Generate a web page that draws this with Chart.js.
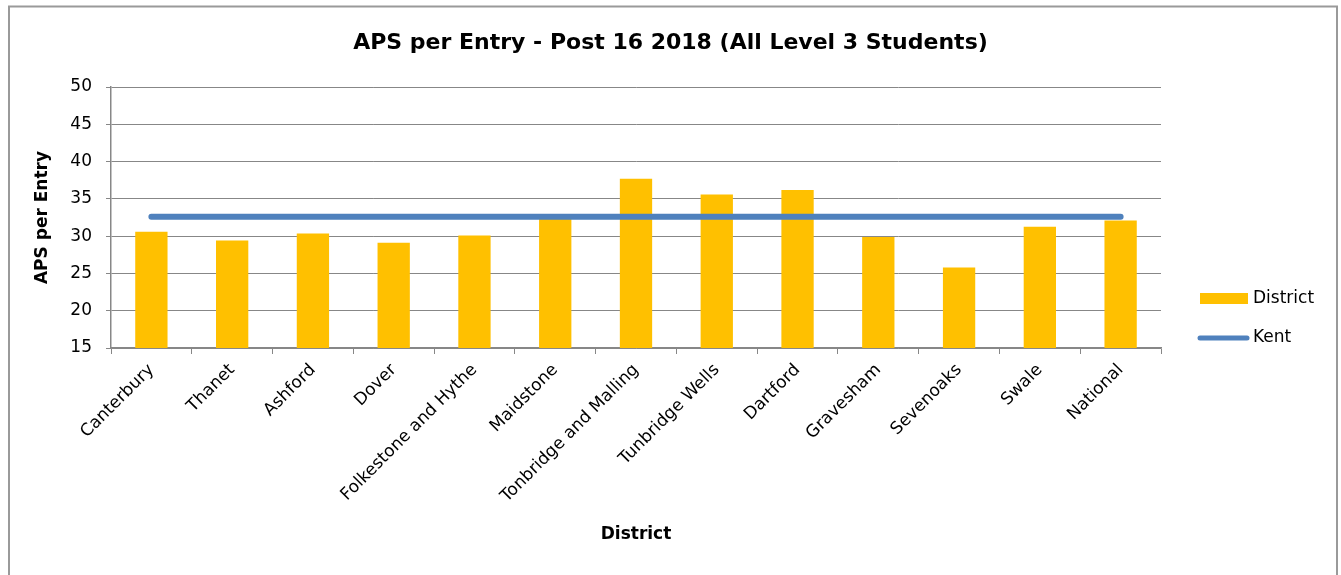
<!DOCTYPE html>
<html>
<head>
<meta charset="utf-8">
<script src="https://cdn.jsdelivr.net/npm/chart.js@4.4.1/dist/chart.umd.min.js"></script>
<style>
  html, body { margin: 0; padding: 0; background: #fff; }
  #wrap { width: 1341px; height: 575px; position: relative; }
</style>
</head>
<body>
<div id="wrap"><canvas id="aps" width="1341" height="575"></canvas></div>
<script>
// data
const districts = ['Canterbury', 'Thanet', 'Ashford', 'Dover', 'Folkestone and Hythe', 'Maidstone',
  'Tonbridge and Malling', 'Tunbridge Wells', 'Dartford', 'Gravesham', 'Sevenoaks', 'Swale', 'National'];
const districtAps = [30.6, 29.4, 30.35, 29.1, 30.1, 32.4, 37.7, 35.6, 36.2, 29.9, 25.8, 31.25, 32.1];
const kentAps = [32.6, 32.6, 32.6, 32.6, 32.6, 32.6, 32.6, 32.6, 32.6, 32.6, 32.6, 32.6, 32.6];
const yTicks = [15, 20, 25, 30, 35, 40, 45, 50];

const FONT = 'DejaVu Sans';
const GRID = '#878787';

// frame round the whole chart + legend on the right
const framePlugin = {
  id: 'frame',
  beforeDraw(chart) {
    const ctx = chart.ctx;
    ctx.save();
    ctx.fillStyle = '#fff';
    ctx.fillRect(0, 0, chart.width, chart.height);
    ctx.strokeStyle = '#9a9a9a';
    ctx.lineWidth = 2;
    ctx.strokeRect(9, 6.5, 1328, 600);
    ctx.restore();
  },
  afterDraw(chart) {
    const ctx = chart.ctx;
    const ds = chart.data.datasets;
    const bar = ds.find(d => d.label === 'District');
    const line = ds.find(d => d.label === 'Kent');
    ctx.save();
    ctx.font = '17px "' + FONT + '"';
    ctx.textBaseline = 'middle';
    // District (bar)
    ctx.fillStyle = bar.backgroundColor;
    ctx.fillRect(1200, 293, 48, 11);
    ctx.fillStyle = '#000';
    ctx.fillText(bar.label, 1253, 299);
    // Kent (line)
    ctx.strokeStyle = line.borderColor;
    ctx.lineWidth = 5;
    ctx.lineCap = 'round';
    ctx.beginPath();
    ctx.moveTo(1200, 338);
    ctx.lineTo(1247, 338);
    ctx.stroke();
    ctx.fillText(line.label, 1253, 338);
    ctx.restore();
  }
};

new Chart(document.getElementById('aps'), {
  type: 'bar',
  data: {
    labels: districts,
    datasets: [
      {
        label: 'District',
        data: districtAps,
        backgroundColor: '#ffc000',
        categoryPercentage: 1,
        barPercentage: 0.4,
        order: 1
      },
      {
        type: 'line',
        label: 'Kent',
        data: kentAps,
        borderColor: '#4f81bd',
        backgroundColor: '#4f81bd',
        borderWidth: 6,
        borderCapStyle: 'round',
        pointRadius: 0,
        tension: 0,
        order: 0
      }
    ]
  },
  options: {
    responsive: false,
    animation: false,
    events: [],
    layout: { padding: 0 },
    plugins: {
      legend: { display: false },
      tooltip: { enabled: false },
      title: {
        display: true,
        text: 'APS per Entry - Post 16 2018 (All Level 3 Students)',
        color: '#000',
        font: { family: FONT, size: 22, weight: 'bold' },
        padding: { top: 30, bottom: 30.6 }
      }
    },
    scales: {
      x: {
        grid: { display: true, drawOnChartArea: false, drawTicks: true, tickLength: 6, color: GRID, lineWidth: 1 },
        border: { color: GRID, width: 1.5 },
        ticks: {
          color: '#000',
          font: { family: FONT, size: 17 },
          minRotation: 45,
          maxRotation: 45,
          autoSkip: false,
          padding: 6
        },
        title: {
          display: true,
          text: 'District',
          color: '#000',
          font: { family: FONT, size: 17, weight: 'bold' },
          padding: { top: 4, bottom: 30 }
        },
        afterFit(scale) { scale.height = 227; }
      },
      y: {
        min: 15,
        max: 50,
        afterBuildTicks(scale) { scale.ticks = yTicks.map(v => ({ value: v })); },
        grid: { color: GRID, lineWidth: 1, tickLength: 5 },
        border: { color: GRID, width: 1.5 },
        ticks: {
          color: '#000',
          font: { family: FONT, size: 17 },
          padding: 14
        },
        title: {
          display: true,
          text: 'APS per Entry',
          color: '#000',
          font: { family: FONT, size: 17, weight: 'bold' },
          padding: { top: 32, bottom: 4 }
        },
        afterFit(scale) { scale.width = 111; }
      },
      // empty right-hand box that keeps room for the legend
      legendSpace: {
        type: 'linear',
        position: 'right',
        display: true,
        grid: { display: false, drawTicks: false },
        border: { display: false },
        ticks: { display: false },
        afterFit(scale) { scale.width = 180; }
      }
    }
  },
  plugins: [framePlugin]
});
</script>
</body>
</html>
